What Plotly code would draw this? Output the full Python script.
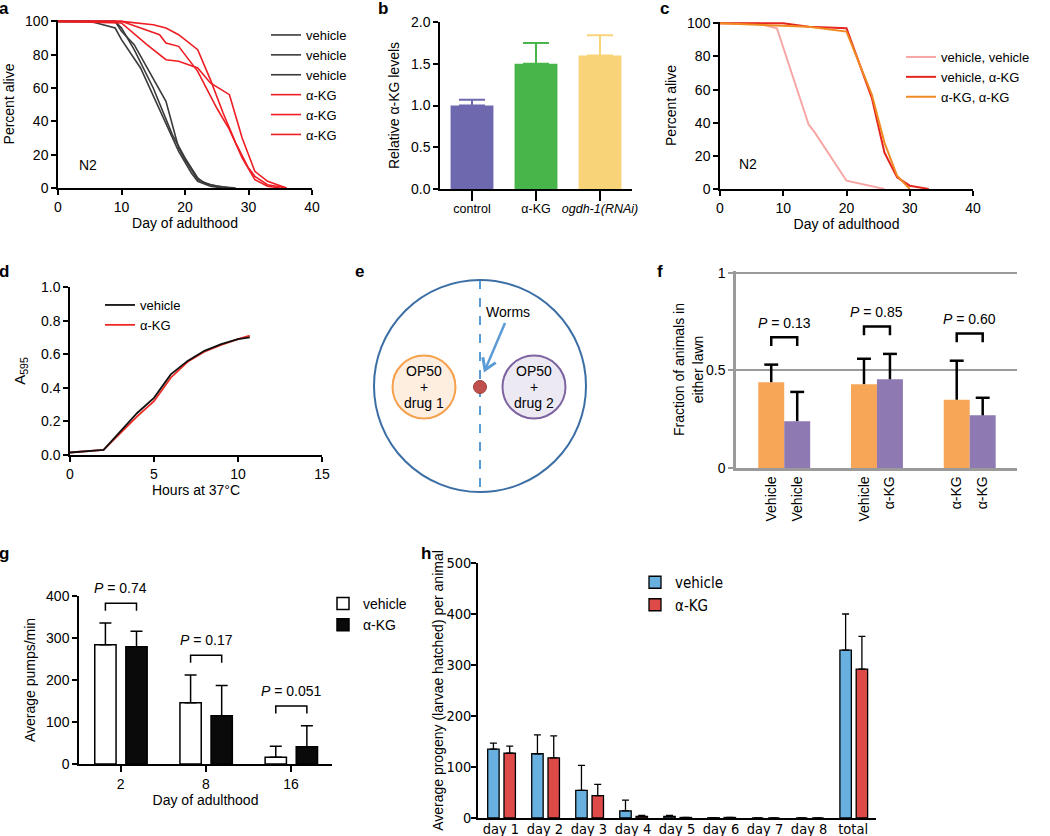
import math
import plotly.graph_objects as go

# ------------------------------------------------------------------ data
# a: lifespan of N2, three replicate populations per condition
a_vehicle_days = [
    [0, 5, 9, 10, 13, 16, 19, 21, 22, 24, 26],
    [0, 9, 10, 12, 17, 19, 20, 22, 24, 27],
    [0, 9, 10, 12, 15, 18, 20, 22, 23, 25, 28],
]
a_vehicle_alive = [
    [100, 100, 96, 89, 72, 47, 22, 9, 4, 1, 0],
    [100, 100, 94, 86, 52, 24, 17, 5, 2, 0],
    [100, 100, 96, 83, 60, 32, 18, 6, 3, 1, 0],
]
a_akg_days = [
    [0, 10, 15, 17, 19, 22, 24, 26, 28, 30, 31, 33, 36],
    [0, 10, 14, 17, 19, 22, 24, 27, 29, 31, 33, 36],
    [0, 10, 16, 17, 19, 22, 25, 27, 29, 31, 33, 35],
]
a_akg_alive = [
    [100, 100, 98, 96, 92, 83, 65, 45, 27, 12, 7, 2, 0],
    [100, 99, 86, 77, 76, 72, 63, 56, 30, 10, 4, 0],
    [100, 100, 92, 87, 85, 70, 48, 35, 18, 5, 1, 0],
]

# b: relative alpha-KG levels
b_groups = ["control", "α-KG", "ogdh-1(RNAi)"]
b_ticktext = ["control", "α-KG", "<i>ogdh-1(RNAi)</i>"]
b_levels = [1.0, 1.5, 1.6]
b_sem = [0.07, 0.25, 0.24]

# c: lifespan, switch experiment
c_names = ["vehicle, vehicle", "vehicle, α-KG", "α-KG, α-KG"]
c_days = [
    [0, 6, 9, 14, 15, 20, 26],
    [0, 10, 14, 20, 24, 26, 28, 30, 33],
    [0, 14, 20, 24, 26, 28, 30],
]
c_alive = [
    [100, 100, 97, 39, 34, 5, 0],
    [100, 100, 98, 97, 55, 22, 7, 2, 0],
    [100, 98, 95, 57, 28, 8, 0],
]

# d: bacterial growth
d_hours = [0, 2, 4, 5, 6, 7, 8, 9, 10, 10.7]
d_vehicle = [0.015, 0.03, 0.25, 0.34, 0.48, 0.56, 0.62, 0.66, 0.69, 0.70]
d_akg = [0.015, 0.03, 0.23, 0.32, 0.46, 0.555, 0.615, 0.655, 0.69, 0.71]

# f: food choice
f_drug1_labels = ["Vehicle", "Vehicle", "α-KG"]
f_drug2_labels = ["Vehicle", "α-KG", "α-KG"]
f_drug1 = [0.44, 0.43, 0.35]
f_drug1_err = [0.09, 0.13, 0.20]
f_drug2 = [0.24, 0.455, 0.27]
f_drug2_err = [0.15, 0.13, 0.09]
f_pvalues = ["0.13", "0.85", "0.60"]

# g: pharyngeal pumping
g_days = ["2", "8", "16"]
g_vehicle = [284, 146, 16]
g_vehicle_err = [52, 66, 26]
g_akg = [279, 115, 41]
g_akg_err = [37, 72, 50]
g_pvalues = ["0.74", "0.17", "0.051"]

# h: brood size
h_days = ["day 1", "day 2", "day 3", "day 4", "day 5", "day 6", "day 7", "day 8", "total"]
h_vehicle = [135, 126, 54, 14, 3, 0.5, 0, 0, 329]
h_vehicle_err = [12, 37, 49, 21, 2, 0, 0, 0, 71]
h_akg = [127, 118, 44, 3, 1, 1, 0, 0, 292]
h_akg_err = [14, 43, 22, 2, 0, 0, 0, 0, 64]

# e: schematic of the choice plate (diagram geometry, pixel units)
e_plate = (480, 386, 106)
e_lawn_left = (424, 387, 31.5)
e_lawn_right = (534, 387, 31.5)
e_drop = (480, 387, 6.5)
e_arrow = (505, 323, 485, 370)

# ------------------------------------------------------------------ style
W, H = 1050, 836
FONT = "Liberation Sans, Arial, Helvetica, sans-serif"
NARROW = "Liberation Sans Narrow, Arial Narrow, DejaVu Sans Condensed, sans-serif"


def xd(a, b):
    return [a / W, b / W]


def yd(top, bottom):
    return [1 - bottom / H, 1 - top / H]


def px(x):
    return x / W


def py(y):
    return 1 - y / H


def to_paper(v, dom, rng):
    return dom[0] + (v - rng[0]) / (rng[1] - rng[0]) * (dom[1] - dom[0])


def ax(**kw):
    base = dict(showline=True, linecolor="black", linewidth=1.5, ticks="outside",
                ticklen=5, tickwidth=1.5, tickcolor="black", showgrid=False,
                zeroline=False, fixedrange=True, automargin=False,
                tickfont=dict(family=FONT, size=14, color="black"))
    base.update(kw)
    return base


def ttl(text, standoff, size=14, family=FONT):
    return dict(text=text, standoff=standoff, font=dict(family=family, size=size, color="black"))


def err_segments(centers, vals, errs, cap):
    xs, ys = [], []
    for c, v, e in zip(centers, vals, errs):
        xs += [c, c, None, c - cap, c + cap, None]
        ys += [v, v + e, None, v + e, v + e, None]
    return xs, ys


def bracket_segments(lefts, rights, tops, drop):
    xs, ys = [], []
    for l, r, t in zip(lefts, rights, tops):
        xs += [l, l, r, r, None]
        ys += [t - drop, t, t, t - drop, None]
    return xs, ys


fig = go.Figure()

# ---------------------------------------------------------------- panel a
for days, alive in zip(a_vehicle_days, a_vehicle_alive):
    fig.add_trace(go.Scatter(x=days, y=alive, mode="lines", name="vehicle",
                             line=dict(color="#3a3a3a", width=1.6),
                             xaxis="x", yaxis="y", legend="legend"))
for days, alive in zip(a_akg_days, a_akg_alive):
    fig.add_trace(go.Scatter(x=days, y=alive, mode="lines", name="α-KG",
                             line=dict(color="#ee1d23", width=1.6),
                             xaxis="x", yaxis="y", legend="legend"))

# ---------------------------------------------------------------- panel b
b_colors = ["#6e69ae", "#47b549", "#f9d378"]
for i, (g, v, e) in enumerate(zip(b_groups, b_levels, b_sem)):
    fig.add_trace(go.Bar(x=[i], y=[v], width=0.67, marker=dict(color=b_colors[i], line=dict(width=0)),
                         error_y=dict(type="data", array=[e], arrayminus=[0], symmetric=False,
                                      color=b_colors[i], thickness=2, width=13),
                         xaxis="x2", yaxis="y2", showlegend=False))

# ---------------------------------------------------------------- panel c
c_colors = ["#f6a7a5", "#e5261f", "#f08a22"]
for name, days, alive, col in zip(c_names, c_days, c_alive, c_colors):
    fig.add_trace(go.Scatter(x=days, y=alive, mode="lines", name=name,
                             line=dict(color=col, width=2),
                             xaxis="x3", yaxis="y3", legend="legend2"))

# ---------------------------------------------------------------- panel d
fig.add_trace(go.Scatter(x=d_hours, y=d_akg, mode="lines", name="α-KG",
                         line=dict(color="#ee2a24", width=1.8), legendrank=2,
                         xaxis="x4", yaxis="y4", legend="legend3"))
fig.add_trace(go.Scatter(x=d_hours, y=d_vehicle, mode="lines", name="vehicle",
                         line=dict(color="#111111", width=1.8), legendrank=1,
                         xaxis="x4", yaxis="y4", legend="legend3"))

# ---------------------------------------------------------------- panel f
f_xdom, f_ydom = xd(736, 1017), yd(271, 468)
f_xr, f_yr = [-0.52, 2.51], [0, 1.01]
f_pos = list(range(len(f_drug1)))
f_w = 0.28
f_c1 = [p - f_w / 2 for p in f_pos]
f_c2 = [p + f_w / 2 for p in f_pos]
fig.add_trace(go.Bar(x=f_pos, y=f_drug1, width=f_w, offset=-f_w, marker=dict(color="#f6a656", line=dict(width=0)),
                     xaxis="x6", yaxis="y6", showlegend=False))
fig.add_trace(go.Bar(x=f_pos, y=f_drug2, width=f_w, offset=0, marker=dict(color="#8f79b2", line=dict(width=0)),
                     xaxis="x6", yaxis="y6", showlegend=False))
ex, ey = err_segments(f_c1 + f_c2, f_drug1 + f_drug2, f_drug1_err + f_drug2_err, 0.075)
fig.add_trace(go.Scatter(x=ex, y=ey, mode="lines", line=dict(color="black", width=2.5),
                         xaxis="x6", yaxis="y6", showlegend=False, hoverinfo="skip"))
f_tops = [max(a + b, c + d) + 0.14 for a, b, c, d in zip(f_drug1, f_drug1_err, f_drug2, f_drug2_err)]
bx, by = bracket_segments(f_c1, f_c2, f_tops, 0.045)
fig.add_trace(go.Scatter(x=bx, y=by, mode="lines", line=dict(color="black", width=2.5),
                         xaxis="x6", yaxis="y6", showlegend=False, hoverinfo="skip"))

# ---------------------------------------------------------------- panel g
g_xdom, g_ydom = xd(79, 332), yd(596, 764)
g_xr, g_yr = [-0.49, 2.48], [0, 400]
g_pos = list(range(len(g_days)))
g_w = 0.25
g_off1, g_off2 = -0.305, 0.06
fig.add_trace(go.Bar(x=g_pos, y=g_vehicle, width=g_w, offset=g_off1, name="vehicle",
                     marker=dict(color="white", line=dict(color="black", width=1.5)),
                     error_y=dict(type="data", array=g_vehicle_err, arrayminus=[0] * 3, symmetric=False,
                                  color="black", thickness=1.5, width=6),
                     xaxis="x7", yaxis="y7", legend="legend4"))
fig.add_trace(go.Bar(x=g_pos, y=g_akg, width=g_w, offset=g_off2, name="α-KG",
                     marker=dict(color="#0a0a0a", line=dict(color="black", width=1.5)),
                     error_y=dict(type="data", array=g_akg_err, arrayminus=[0] * 3, symmetric=False,
                                  color="black", thickness=1.5, width=6),
                     xaxis="x7", yaxis="y7", legend="legend4"))
g_c1 = [p + g_off1 + g_w / 2 for p in g_pos]
g_c2 = [p + g_off2 + g_w / 2 for p in g_pos]
g_tops = [max(a + b, c + d) + 47 for a, b, c, d in zip(g_vehicle, g_vehicle_err, g_akg, g_akg_err)]
bx, by = bracket_segments(g_c1, g_c2, g_tops, 18)
fig.add_trace(go.Scatter(x=bx, y=by, mode="lines", line=dict(color="black", width=1.5),
                         xaxis="x7", yaxis="y7", showlegend=False, hoverinfo="skip"))

# ---------------------------------------------------------------- panel h
h_pos = list(range(len(h_days)))
h_w = 0.26
fig.add_trace(go.Bar(x=h_pos, y=h_vehicle, width=h_w, offset=-0.3, name="vehicle",
                     marker=dict(color="#68b0df", line=dict(color="black", width=1.3)),
                     error_y=dict(type="data", array=h_vehicle_err, arrayminus=[0] * 9, symmetric=False,
                                  color="black", thickness=1.3, width=3.5),
                     xaxis="x8", yaxis="y8", legend="legend5"))
fig.add_trace(go.Bar(x=h_pos, y=h_akg, width=h_w, offset=0.07, name="α-KG",
                     marker=dict(color="#dd4a48", line=dict(color="black", width=1.3)),
                     error_y=dict(type="data", array=h_akg_err, arrayminus=[0] * 9, symmetric=False,
                                  color="black", thickness=1.3, width=3.5),
                     xaxis="x8", yaxis="y8", legend="legend5"))

# ---------------------------------------------------------------- panel e (diagram)
shapes = []
cx, cy, r = e_plate
shapes.append(dict(type="line", xref="x5", yref="y5", x0=cx, x1=cx, y0=cy - r, y1=cy + r,
                   line=dict(color="#5b9bd5", width=2, dash="dash")))
shapes.append(dict(type="circle", xref="x5", yref="y5", x0=cx - r, x1=cx + r, y0=cy - r, y1=cy + r,
                   line=dict(color="#3b6ea5", width=2)))
for (lx, ly, lr), fill, stroke in [(e_lawn_left, "#fdeee0", "#f6a04b"), (e_lawn_right, "#ece9f3", "#7d63a0")]:
    shapes.append(dict(type="circle", xref="x5", yref="y5", x0=lx - lr, x1=lx + lr, y0=ly - lr, y1=ly + lr,
                       fillcolor=fill, line=dict(color=stroke, width=2)))
dx, dy, dr = e_drop
shapes.append(dict(type="circle", xref="x5", yref="y5", x0=dx - dr, x1=dx + dr, y0=dy - dr, y1=dy + dr,
                   fillcolor="#c0504d", line=dict(color="#a23d3a", width=1)))
# arrow pointing at the drop of worms: shaft plus an open chevron head
ax0, ay0, ax1, ay1 = e_arrow
ln = math.hypot(ax1 - ax0, ay1 - ay0)
ux, uy = (ax1 - ax0) / ln, (ay1 - ay0) / ln
nx, ny = -uy, ux
bxh, byh = ax1 - 11 * ux, ay1 - 11 * uy
shapes.append(dict(type="line", xref="x5", yref="y5", x0=ax0, y0=ay0, x1=ax1 - 1.5 * ux, y1=ay1 - 1.5 * uy,
                   line=dict(color="#5b9bd5", width=2.5)))
shapes.append(dict(type="path", xref="x5", yref="y5",
                   path="M %.2f %.2f L %.2f %.2f L %.2f %.2f" % (bxh + 7 * nx, byh + 7 * ny, ax1, ay1,
                                                                 bxh - 7 * nx, byh - 7 * ny),
                   line=dict(color="#5b9bd5", width=3)))

annotations = []
for (lx, ly, lr), label in [(e_lawn_left, "drug 1"), (e_lawn_right, "drug 2")]:
    for k, t in enumerate(["OP50", "+", label]):
        annotations.append(dict(x=lx, y=ly + (k - 1) * 16, xref="x5", yref="y5", text=t, showarrow=False,
                                font=dict(family=FONT, size=14, color="black")))
annotations.append(dict(x=ax0 + 3, y=ay0 - 11, xref="x5", yref="y5", text="Worms", showarrow=False,
                        font=dict(family=FONT, size=14, color="black")))

# ---------------------------------------------------------------- other annotations
for lab, x, y in [("a", 4, 8), ("b", 383, 8), ("c", 664, 8), ("d", 4, 271), ("e", 359, 272),
                  ("f", 660, 272), ("g", 4, 553), ("h", 426, 553)]:
    annotations.append(dict(x=px(x), y=py(y), xref="paper", yref="paper", text="<b>%s</b>" % lab,
                            showarrow=False, xanchor="center", yanchor="middle",
                            font=dict(family=FONT, size=17, color="black")))
annotations.append(dict(x=4.7, y=14, xref="x", yref="y", text="N2", showarrow=False,
                        font=dict(family=FONT, size=14, color="black")))
annotations.append(dict(x=4.4, y=15, xref="x3", yref="y3", text="N2", showarrow=False,
                        font=dict(family=FONT, size=14, color="black")))
for c1, c2, t, p in zip(f_c1, f_c2, f_tops, f_pvalues):
    annotations.append(dict(x=to_paper((c1 + c2) / 2, f_xdom, f_xr), y=to_paper(t + 0.075, f_ydom, f_yr),
                            xref="paper", yref="paper", text="<i>P</i> = " + p,
                            xanchor="center", yanchor="middle",
                            showarrow=False, font=dict(family=FONT, size=14, color="black")))
for c1, c2, t, p in zip(g_c1, g_c2, g_tops, g_pvalues):
    annotations.append(dict(x=to_paper((c1 + c2) / 2, g_xdom, g_xr), y=to_paper(t + 37, g_ydom, g_yr),
                            xref="paper", yref="paper", text="<i>P</i> = " + p,
                            xanchor="center", yanchor="middle",
                            showarrow=False, font=dict(family=FONT, size=14, color="black")))

leg = dict(bgcolor="rgba(0,0,0,0)", borderwidth=0, tracegroupgap=0, xanchor="left", yanchor="top",
           font=dict(family=FONT, size=13, color="black"))

fig.update_layout(
    width=W, height=H, autosize=False,
    margin=dict(l=0, r=0, t=0, b=0, pad=0, autoexpand=False),
    paper_bgcolor="white", plot_bgcolor="rgba(0,0,0,0)",
    font=dict(family=FONT, size=14, color="black"),
    barmode="overlay",
    shapes=shapes, annotations=annotations,
    legend=dict(leg, x=px(266), y=py(20)),
    legend2=dict(leg, x=px(901), y=py(42)),
    legend3=dict(leg, x=px(100), y=py(290)),
    legend4=dict(leg, x=px(323), y=py(588), font=dict(family=FONT, size=14, color="black")),
    legend5=dict(leg, x=px(635), y=py(566), font=dict(family=NARROW, size=15, color="black")),
    # a
    xaxis=ax(domain=xd(58, 312), range=[0, 40], tickvals=[0, 10, 20, 30, 40], anchor="y",
             title=ttl("Day of adulthood", 2)),
    yaxis=ax(domain=yd(20, 188), range=[0, 100.8], tickvals=[0, 20, 40, 60, 80, 100], anchor="x",
             title=ttl("Percent alive", 7)),
    # b
    xaxis2=ax(domain=xd(440, 632), range=[-0.5, 2.5], tickvals=list(range(3)), ticktext=b_ticktext,
              ticklen=10, ticklabelstandoff=-3, tickfont=dict(family=FONT, size=12.5, color="black"),
              anchor="y2"),
    yaxis2=ax(domain=yd(22, 189), range=[0, 2.0], tickvals=[0, 0.5, 1.0, 1.5, 2.0], tickformat=".1f",
              anchor="x2", title=ttl("Relative α-KG levels", 8)),
    # c
    xaxis3=ax(domain=xd(720, 973), range=[0, 40], tickvals=[0, 10, 20, 30, 40], anchor="y3",
              title=ttl("Day of adulthood", 2)),
    yaxis3=ax(domain=yd(22, 189), range=[0, 100.8], tickvals=[0, 20, 40, 60, 80, 100], anchor="x3",
              title=ttl("Percent alive", 7)),
    # d
    xaxis4=ax(domain=xd(70, 322), range=[0, 15], tickvals=[0, 5, 10, 15], anchor="y4",
              title=ttl("Hours at 37°C", 4)),
    yaxis4=ax(domain=yd(287, 455), range=[0, 1.0], tickvals=[0, 0.2, 0.4, 0.6, 0.8, 1.0], tickformat=".1f",
              anchor="x4", title=ttl("A<sub>595</sub>", 12, size=15)),
    # e
    xaxis5=dict(domain=xd(350, 610), range=[350, 610], visible=False, fixedrange=True, anchor="y5"),
    yaxis5=dict(domain=yd(265, 505), range=[505, 265], visible=False, fixedrange=True, anchor="x5"),
    # f
    xaxis6=ax(domain=f_xdom, range=f_xr, tickvals=f_c1 + f_c2,
              ticktext=f_drug1_labels + f_drug2_labels, tickangle=-90, ticks="",
              linecolor="#9a9a9a", linewidth=2.5, anchor="y6"),
    yaxis6=ax(domain=f_ydom, range=f_yr, tickvals=[0, 0.5, 1], ticktext=["0", "0.5", "1"],
              showgrid=True, gridcolor="#9a9a9a", gridwidth=2, linecolor="#9a9a9a", linewidth=2.5,
              tickcolor="#9a9a9a", tickwidth=2, ticklen=5, anchor="x6",
              title=ttl("Fraction of animals in<br>either lawn", 0)),
    # g
    xaxis7=ax(domain=g_xdom, range=g_xr, tickvals=g_pos, ticktext=g_days, ticklen=6,
              anchor="y7", title=ttl("Day of adulthood", 4)),
    yaxis7=ax(domain=g_ydom, range=g_yr, tickvals=[0, 100, 200, 300, 400], anchor="x7",
              title=ttl("Average pumps/min", 7)),
    # h
    xaxis8=ax(domain=xd(478, 876), range=[-0.52, 8.52], tickvals=h_pos, ticktext=h_days, ticks="",
              ticklabelstandoff=-3, tickfont=dict(family=NARROW, size=14.5, color="black"), anchor="y8"),
    yaxis8=ax(domain=yd(563, 818), range=[0, 500], tickvals=[0, 100, 200, 300, 400, 500], anchor="x8",
              ticklabelstandoff=-3,
              tickfont=dict(family=NARROW, size=14.5, color="black"),
              title=ttl("Average progeny (larvae hatched) per animal", 0)),
)

fig.write_html("out.html", config={"displayModeBar": False},
               post_script="document.body.style.margin='0px';")
